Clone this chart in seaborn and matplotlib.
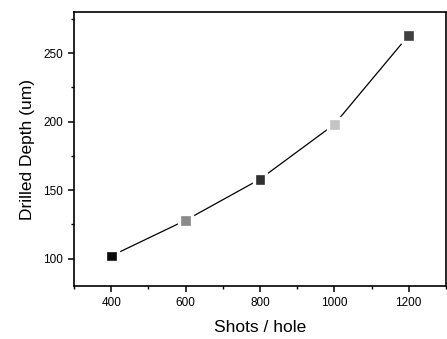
import matplotlib
matplotlib.use("Agg")
import matplotlib.pyplot as plt
import pandas as pd
import seaborn as sns
from matplotlib.ticker import MultipleLocator

shots = [400, 600, 800, 1000, 1200]
depth = [102, 128, 158, 198, 263]
marker_colors = ["#0a0a0a", "#8a8a8a", "#303030", "#c4c4c4", "#404040"]

sns.set_style("ticks")
plt.rcParams["font.family"] = ["Liberation Sans", "DejaVu Sans"]

df = pd.DataFrame({"shots": shots, "depth": depth, "pt": [str(s) for s in shots]})

fig = plt.figure(figsize=(4.47, 3.39), dpi=100)
ax = fig.add_axes([0.1655, 0.156, 0.832, 0.8086])

sns.lineplot(data=df, x="shots", y="depth", color="black", linewidth=0.9, ax=ax)
sns.scatterplot(data=df, x="shots", y="depth", hue="pt", palette=marker_colors,
                marker="s", s=85, edgecolor="white", linewidth=2.4, legend=False,
                ax=ax, zorder=3)

ax.set_xlim(300, 1300)
ax.set_ylim(80, 280)
ax.xaxis.set_major_locator(MultipleLocator(200))
ax.xaxis.set_minor_locator(MultipleLocator(100))
ax.yaxis.set_major_locator(MultipleLocator(50))
ax.yaxis.set_minor_locator(MultipleLocator(25))
ax.tick_params(which="major", direction="out", length=4.5, width=1.1,
               labelsize=8.5, colors="black")
ax.tick_params(which="minor", direction="out", length=2.5, width=1, colors="black")

for s in ax.spines.values():
    s.set_linewidth(1.2)
    s.set_color("black")

ax.set_xlabel("Shots / hole", fontsize=12.5, labelpad=8, color="black")
ax.set_ylabel("Drilled Depth (um)", fontsize=12.5, labelpad=6, color="black")

fig.savefig("out.png", dpi=100)
